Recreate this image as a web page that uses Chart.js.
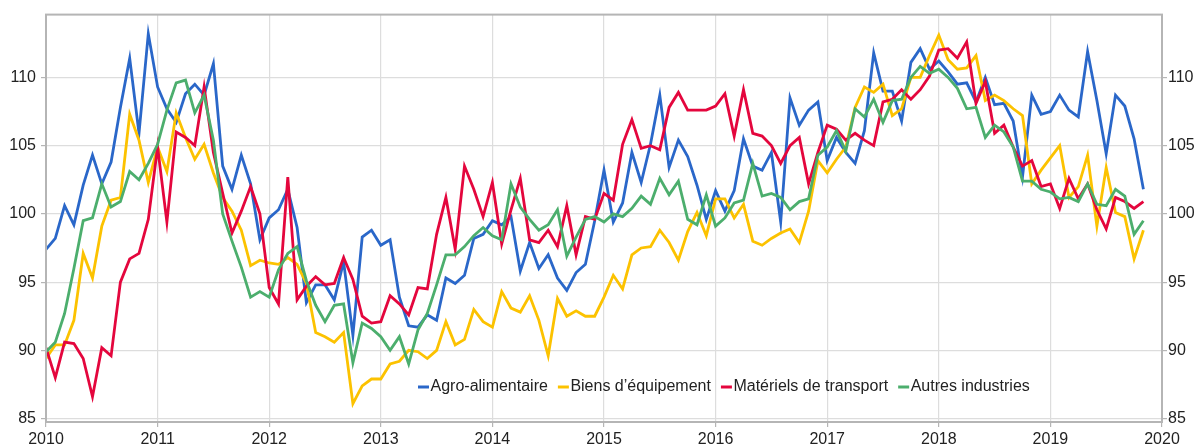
<!DOCTYPE html>
<html>
<head>
<meta charset="utf-8">
<script src="https://cdn.jsdelivr.net/npm/chart.js@4.4.0/dist/chart.umd.min.js"></script>
<style>
  html, body { margin: 0; padding: 0; background: #ffffff; }
  #wrap { width: 1202px; height: 446px; }
</style>
</head>
<body>
<div id="wrap"><canvas id="c" width="1202" height="446"></canvas></div>
<script>
// ---- Data (monthly, Jan 2010 .. Nov 2019) ----
const startYear = 2010;
const yearLabels = ['2010','2011','2012','2013','2014','2015','2016','2017','2018','2019','2020'];
const seriesNames = ['Agro-alimentaire', 'Biens d\u2019équipement', 'Matériels de transport', 'Autres industries'];

const agro = [
  97.4, 98.2, 100.6, 99.2, 102.1, 104.3, 102.2, 103.8, 107.8, 111.4, 105.9, 113.2,
  109.3, 107.7, 106.7, 108.8, 109.5, 108.7, 111.0, 103.5, 101.8, 104.3, 102.2, 98.1,
  99.7, 100.3, 101.8, 99.0, 93.5, 94.8, 94.8, 93.7, 96.5, 91.1, 98.3, 98.8,
  97.7, 98.1, 93.9, 91.8, 91.7, 92.6, 92.2, 95.3, 94.9, 95.5, 98.2, 98.5,
  99.5, 99.2, 99.8, 95.8, 97.9, 96.0, 97.0, 95.3, 94.4, 95.7, 96.3, 99.5,
  103.2, 99.4, 100.8, 104.5, 102.3, 105.1, 108.7, 103.4, 105.4, 104.2, 102.1, 99.6,
  101.7, 100.2, 101.7, 105.5, 103.5, 103.2, 104.5, 99.4, 108.5, 106.5, 107.6, 108.2,
  103.9, 105.6, 104.5, 103.7, 106.1, 111.8, 109.0, 109.0, 106.8, 111.1, 112.1, 110.6,
  111.2, 110.4, 109.5, 109.6, 108.2, 110.0, 108.0, 108.1, 106.8, 102.7, 108.7, 107.3,
  107.5, 108.7, 107.6, 107.1, 111.9, 108.3, 104.4, 108.7, 107.9, 105.5, 101.8
];
const biens = [
  89.4, 90.4, 90.4, 92.2, 97.1, 95.3, 99.1, 101.0, 101.2, 107.3, 105.4, 102.3,
  104.9, 103.1, 107.4, 105.6, 104.0, 105.1, 103.0, 101.2, 100.2, 98.8, 96.2, 96.6,
  96.4, 96.3, 96.8, 96.3, 94.9, 91.3, 91.0, 90.6, 91.3, 86.1, 87.4, 87.9,
  87.9, 89.0, 89.2, 90.0, 89.9, 89.4, 90.0, 92.1, 90.4, 90.8, 93.0, 92.1,
  91.7, 94.3, 93.1, 92.8, 94.0, 92.2, 89.6, 93.8, 92.5, 92.9, 92.5, 92.5,
  93.9, 95.5, 94.5, 97.0, 97.5, 97.6, 98.8, 97.9, 96.6, 98.7, 100.1, 98.4,
  101.1, 101.1, 99.7, 100.7, 98.0, 97.7, 98.2, 98.6, 98.9, 97.9, 100.2, 103.9,
  103.0, 104.0, 104.9, 107.8, 109.3, 108.9, 109.5, 107.2, 107.7, 110.0, 110.0, 111.6,
  113.1, 111.3, 110.6, 110.7, 111.6, 108.3, 108.7, 108.3, 107.7, 107.2, 102.2, 103.2,
  104.1, 105.0, 101.2, 102.0, 104.3, 99.1, 103.4, 100.1, 99.8, 96.7, 98.8
];
const transport = [
  90.2, 88.0, 90.6, 90.5, 89.4, 86.6, 90.2, 89.6, 95.0, 96.7, 97.1, 99.6,
  104.9, 99.4, 106.0, 105.6, 105.0, 109.3, 104.5, 101.5, 98.6, 100.2, 102.0, 100.0,
  94.6, 93.4, 102.7, 93.7, 94.7, 95.4, 94.8, 94.9, 96.8, 95.2, 92.5, 92.0,
  92.1, 94.0, 93.4, 92.6, 94.6, 94.5, 98.5, 101.2, 97.4, 103.5, 101.8, 99.8,
  102.3, 97.8, 100.3, 102.6, 98.1, 97.9, 98.8, 97.6, 100.6, 97.0, 99.8, 99.6,
  101.5, 101.0, 105.1, 106.9, 104.8, 105.0, 104.7, 107.8, 108.9, 107.6, 107.6, 107.6,
  107.9, 108.8, 105.7, 109.1, 105.9, 105.7, 105.0, 103.7, 105.0, 105.6, 102.2, 104.5,
  106.5, 106.2, 105.4, 105.9, 105.4, 105.0, 108.2, 108.4, 109.1, 108.4, 109.1, 110.1,
  112.0, 112.1, 111.4, 112.6, 108.1, 109.7, 105.9, 106.5, 104.9, 103.5, 103.9, 102.0,
  102.2, 100.4, 102.6, 101.1, 102.2, 100.3, 98.9, 101.2, 100.9, 100.4, 100.9
];
const autres = [
  89.9, 90.6, 92.7, 96.0, 99.5, 99.7, 102.2, 100.5, 100.9, 103.1, 102.5, 103.7,
  105.1, 107.6, 109.6, 109.8, 107.4, 108.7, 105.4, 100.0, 98.0, 96.1, 93.9, 94.3,
  93.9, 95.9, 97.1, 97.6, 95.1, 93.3, 92.1, 93.3, 93.4, 89.1, 92.0, 91.6,
  91.0, 90.0, 91.0, 89.0, 91.5, 92.7, 94.8, 97.0, 97.0, 97.6, 98.4, 99.0,
  98.4, 98.1, 102.2, 100.5, 99.6, 98.8, 99.2, 100.3, 96.9, 98.3, 99.6, 99.8,
  99.4, 100.0, 99.8, 100.4, 101.3, 100.7, 102.6, 101.4, 102.4, 99.6, 99.2, 101.4,
  99.1, 99.7, 100.8, 101.0, 103.7, 101.3, 101.5, 101.2, 100.3, 100.9, 101.1, 104.3,
  104.9, 106.1, 104.6, 107.7, 107.1, 108.4, 106.7, 108.3, 108.4, 110.0, 110.8, 110.3,
  110.6, 110.0, 109.2, 107.7, 107.8, 105.6, 106.5, 106.0, 104.9, 102.4, 102.4, 101.8,
  101.6, 101.1, 101.2, 100.9, 102.2, 100.7, 100.6, 101.8, 101.3, 98.5, 99.5
];
const yTicks = [85, 90, 95, 100, 105, 110];

// ---- Styling ----
const colors = ['#2a67c9', '#fcc200', '#e4063d', '#4cae6d'];
const FONT = '"Liberation Sans", Arial, Helvetica, sans-serif';
const TEXT = '#222222';
const GRID = '#dddddd';
const AXIS = '#b5b5b5';

function toPoints(arr) { return arr.map((v, i) => ({ x: i, y: v })); }

const allSeries = [agro, biens, transport, autres];
const datasets = allSeries.map((arr, k) => ({
  label: seriesNames[k],
  data: toPoints(arr),
  borderColor: colors[k],
  backgroundColor: colors[k],
  borderWidth: 2.8,
  pointRadius: 0,
  tension: 0,
  fill: false,
  order: 3 - k,
  yAxisID: 'y'
}));

const frame = {
  id: 'frame',
  afterDatasetsDraw(chart) {
    const { ctx, chartArea: a } = chart;
    ctx.save();
    ctx.strokeStyle = AXIS;
    ctx.lineWidth = 2;
    ctx.strokeRect(a.left, a.top, a.right - a.left, a.bottom - a.top);
    ctx.restore();
  }
};

const legendPlugin = {
  id: 'inlineLegend',
  afterDatasetsDraw(chart) {
    const { ctx } = chart;
    ctx.save();
    ctx.font = '16px ' + FONT;
    ctx.textBaseline = 'middle';
    let x = 418;
    const y = 387;
    chart.data.datasets.forEach(ds => {
      ctx.strokeStyle = ds.borderColor;
      ctx.lineWidth = 3;
      ctx.beginPath();
      ctx.moveTo(x, y);
      ctx.lineTo(x + 11, y);
      ctx.stroke();
      ctx.fillStyle = TEXT;
      ctx.textAlign = 'left';
      ctx.fillText(ds.label, x + 12.5, y);
      x += 12.5 + ctx.measureText(ds.label).width + 10;
    });
    ctx.restore();
  }
};

function yAxis(pos, width, pad) {
  return {
    type: 'linear',
    position: pos,
    min: 84.75,
    max: 114.6,
    afterBuildTicks(scale) { scale.ticks = yTicks.map(v => ({ value: v })); },
    afterFit(scale) { scale.width = width; },
    grid: {
      display: true,
      drawOnChartArea: pos === 'left',
      color: GRID,
      lineWidth: 1.2,
      tickLength: 5,
      tickColor: AXIS
    },
    border: { display: true, color: AXIS, width: 2 },
    ticks: {
      color: TEXT,
      font: { family: FONT, size: 16 },
      padding: pad
    }
  };
}

new Chart(document.getElementById('c'), {
  type: 'line',
  data: { datasets },
  options: {
    responsive: false,
    devicePixelRatio: 1,
    animation: false,
    layout: { padding: { top: 14, left: 0, right: 0, bottom: 0 } },
    plugins: {
      legend: { display: false },
      title: { display: false },
      tooltip: { enabled: false }
    },
    scales: {
      x: {
        type: 'linear',
        min: 0,
        max: (yearLabels.length - 1) * 12,
        afterBuildTicks(scale) {
          scale.ticks = yearLabels.map((_, k) => ({ value: k * 12 }));
        },
        afterFit(scale) { scale.height = 24; },
        grid: { color: GRID, lineWidth: 1.2, tickLength: 5, tickColor: AXIS },
        border: { display: true, color: AXIS, width: 2 },
        ticks: {
          color: TEXT,
          font: { family: FONT, size: 16 },
          padding: 3,
          maxRotation: 0,
          autoSkip: false,
          callback: (v) => yearLabels[Math.round(v / 12)]
        }
      },
      y: yAxis('left', 46, 5),
      y2: yAxis('right', 40, 1)
    }
  },
  plugins: [frame, legendPlugin]
});
</script>
</body>
</html>
